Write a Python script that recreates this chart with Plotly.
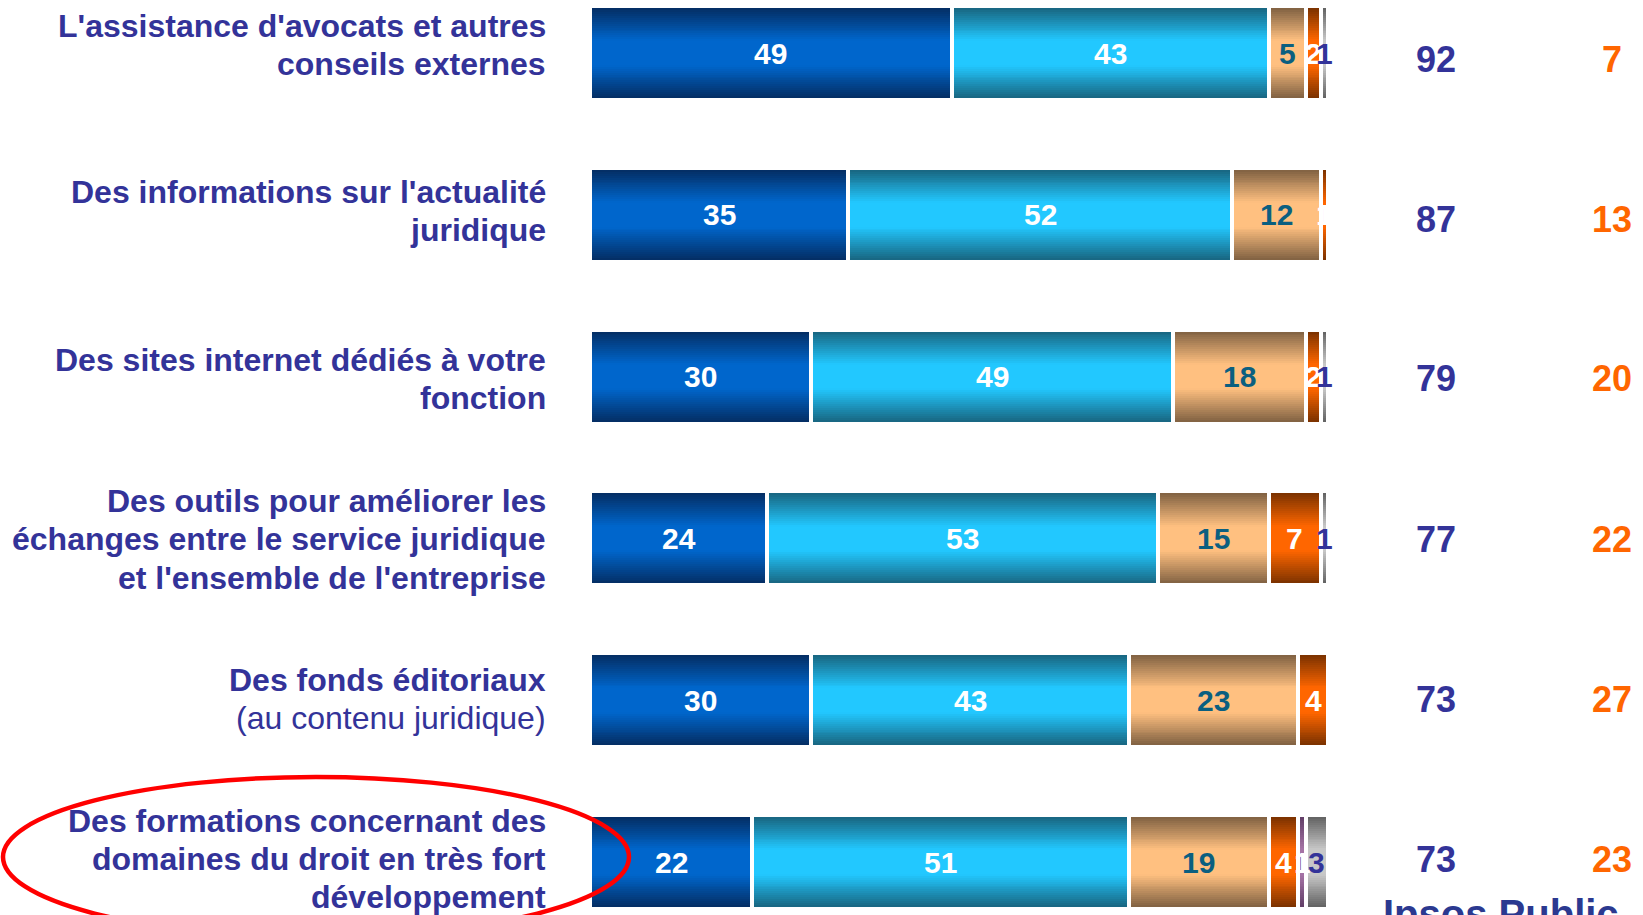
import plotly.graph_objects as go

# ---------------- data ----------------
category_lines = [
    ["L'assistance d'avocats et autres", "conseils externes"],
    ["Des informations sur l'actualité", "juridique"],
    ["Des sites internet dédiés à votre", "fonction"],
    ["Des outils pour améliorer les", "échanges entre le service juridique", "et l'ensemble de l'entreprise"],
    ["Des fonds éditoriaux", "(au contenu juridique)"],
    ["Des formations concernant des", "domaines du droit en très fort", "développement"],
]
series_names = ["Très utile", "Plutôt utile", "Plutôt pas utile", "Pas du tout utile", "Autre", "Nsp"]
tres_utile = [49, 35, 30, 24, 30, 22]
plutot_utile = [43, 52, 49, 53, 43, 51]
plutot_pas = [5, 12, 18, 15, 23, 19]
pas_du_tout = [2, 1, 2, 7, 4, 4]
autre = [0, 0, 0, 0, 0, 1]
nsp = [1, 0, 1, 1, 0, 3]
total_utile = [92, 87, 79, 77, 73, 73]
total_pas_utile = [7, 13, 20, 22, 27, 23]

# ---------------- styles ----------------
FONT = "Liberation Sans, Arial, sans-serif"
INDIGO = "#333399"
ORANGE = "#ff6600"
series = [tres_utile, plutot_utile, plutot_pas, pas_du_tout, autre, nsp]
edge_cols = [(4, 44, 96), (24, 98, 124), (124, 94, 64), (118, 48, 0), (95, 60, 100), (95, 95, 95)]
mid_cols = [(0, 102, 204), (34, 200, 255), (255, 192, 128), (255, 102, 0), (165, 115, 165), (200, 200, 200)]
label_cols = ["white", "white", "#0b5f80", "white", "white", INDIGO]
label_dy = [-8.4, -4.2, 2, 1, -1.5, -3]      # px, label block vs bar centre
total_dy = [6.3, 4.2, 2.1, 1, -1, -2.1]      # px, totals vs bar centre
regular_lines = {(4, 1)}

W, H = 1643, 915
PX_UNIT = 7.38
X0 = 590
ROW0, ROWSTEP = 53, 161.8
BARW = 94 / ROWSTEP
NL = 24
LS = 38.2

ypos = list(range(len(category_lines)))

def lerp(a, b, t):
    return "rgb(%d,%d,%d)" % tuple(round(a[i] + (b[i] - a[i]) * t) for i in range(3))

fig = go.Figure()

bases = [0] * len(ypos)
anns = []
for s, vals in enumerate(series):
    base = list(bases)
    for k in range(NL):
        f = 1 - k / NL
        t = min(max((f - 0.28) / 0.72, 0), 1)
        col = lerp(mid_cols[s], edge_cols[s], t)
        fig.add_trace(go.Bar(
            y=ypos, x=vals, base=base, orientation="h",
            width=BARW * f, marker=dict(color=col, line=dict(width=0)),
            name=series_names[s], showlegend=False, hoverinfo="skip",
        ))
    fig.add_trace(go.Bar(
        y=ypos, x=vals, base=base, orientation="h", width=BARW,
        marker=dict(color="rgba(0,0,0,0)", line=dict(color="white", width=4)),
        showlegend=False, hoverinfo="skip",
    ))
    for i, v in enumerate(vals):
        if v > 0:
            anns.append(dict(
                x=base[i] + v / 2, y=i, xref="x", yref="y", text="<b>%d</b>" % v,
                showarrow=False, font=dict(family=FONT, size=30, color=label_cols[s]),
                xanchor="center", yanchor="middle",
            ))
        bases[i] += v

for i, lines in enumerate(category_lines):
    n = len(lines)
    for k, line in enumerate(lines):
        off = (k - (n - 1) / 2) * LS + label_dy[i]
        txt = line if (i, k) in regular_lines else "<b>" + line + "</b>"
        anns.append(dict(
            x=548 / W, y=i, xref="paper", yref="y", yshift=-off, text=txt,
            showarrow=False, xanchor="right", yanchor="middle",
            font=dict(family=FONT, size=32, color=INDIGO),
        ))
    anns.append(dict(
        x=1436 / W, y=i, xref="paper", yref="y", yshift=-total_dy[i], text="<b>%d</b>" % total_utile[i],
        showarrow=False, xanchor="center", yanchor="middle",
        font=dict(family=FONT, size=36, color=INDIGO),
    ))
    anns.append(dict(
        x=1612 / W, y=i, xref="paper", yref="y", yshift=-total_dy[i], text="<b>%d</b>" % total_pas_utile[i],
        showarrow=False, xanchor="center", yanchor="middle",
        font=dict(family=FONT, size=36, color=ORANGE),
    ))

anns.append(dict(
    x=1381 / W, y=1 - 890 / H, xref="paper", yref="paper", text="<b>Ipsos Public</b>",
    showarrow=False, xanchor="left", yanchor="top",
    font=dict(family=FONT, size=40, color="#2b3990"),
))

yb = -ROW0 / ROWSTEP
fig.update_layout(
    width=W, height=H,
    margin=dict(l=0, r=0, t=0, b=0),
    paper_bgcolor="white", plot_bgcolor="white",
    barmode="overlay", bargap=0,
    xaxis=dict(range=[-X0 / PX_UNIT, -X0 / PX_UNIT + W / PX_UNIT], visible=False, fixedrange=True),
    yaxis=dict(range=[yb + H / ROWSTEP, yb], visible=False, fixedrange=True),
    annotations=anns,
    shapes=[dict(
        type="circle", xref="paper", yref="paper", layer="above",
        x0=3 / W, x1=629 / W, y0=1 - 937 / H, y1=1 - 777 / H,
        line=dict(color="#ff0000", width=4.5),
    )],
    showlegend=False,
)

fig.write_html(
    "out.html",
    config={"displayModeBar": False},
    post_script="document.body.style.margin='0';document.body.style.overflow='hidden';",
)
